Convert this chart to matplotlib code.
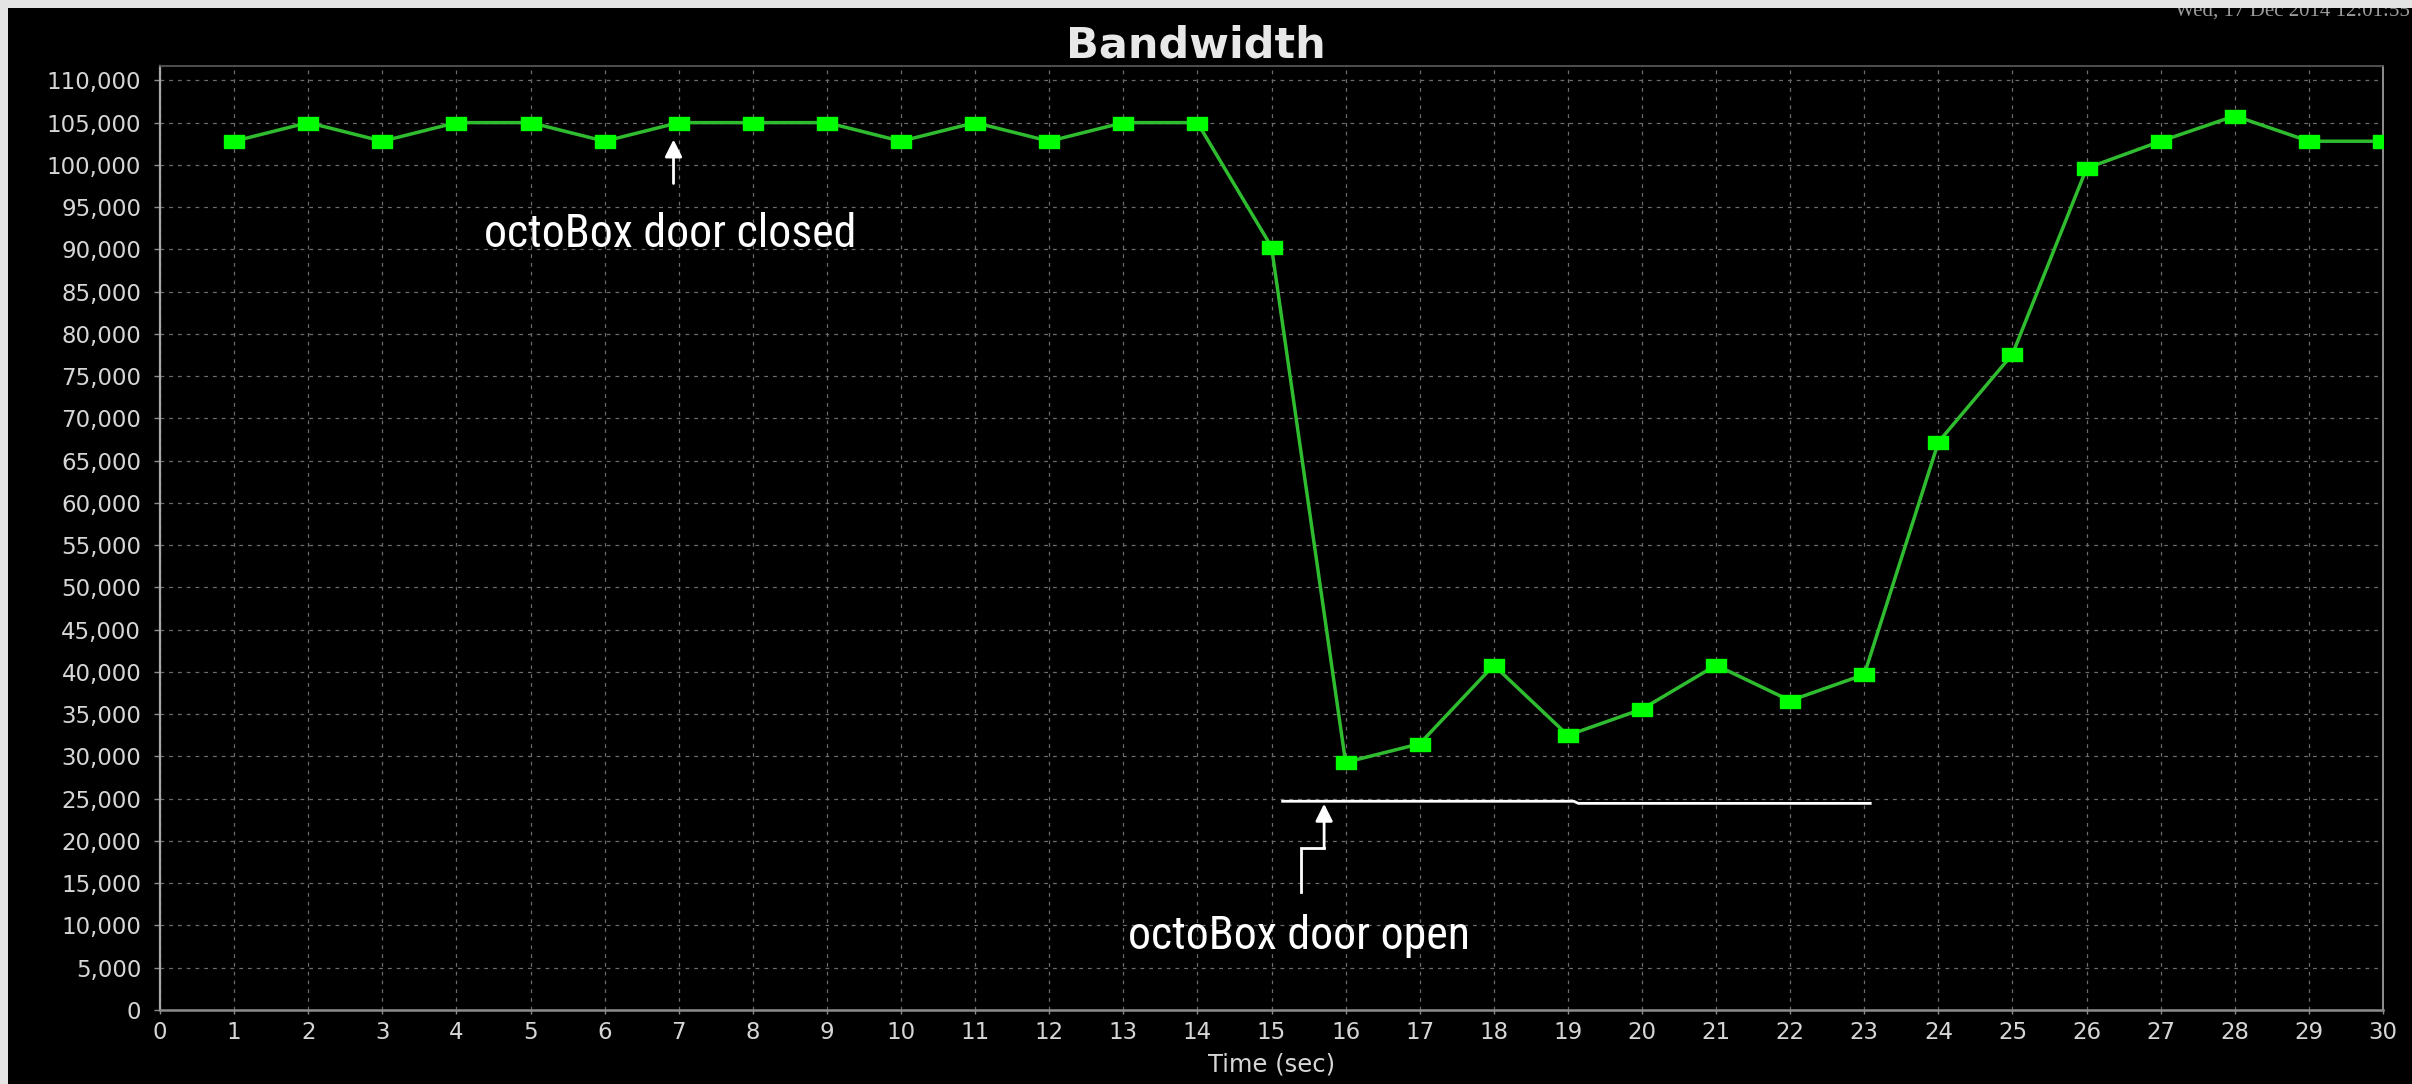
import matplotlib
matplotlib.use("Agg")
import matplotlib.pyplot as plt
from matplotlib.patches import Rectangle
from matplotlib.ticker import FuncFormatter
from matplotlib import font_manager

# ---- data -------------------------------------------------------------
seconds = list(range(1, 31))
bandwidth = [102800, 105000, 102800, 105000, 105000, 102800, 105000, 105000,
             105000, 102800, 105000, 102800, 105000, 105000, 90300, 29300,
             31500, 40800, 32500, 35600, 40800, 36600, 39700, 67200, 77600,
             99600, 102800, 105800, 102800, 102800]

x_ticks = list(range(0, 31))
y_ticks = list(range(0, 110001, 5000))

title_text = "Bandwidth"
x_label = "Time (sec)"
timestamp = "Wed, 17 Dec 2014 12:01:55"

# door-closed marker: arrow (tail -> tip) and label
closed_label = "octoBox door closed"
closed_arrow_x = [6.93, 6.93]
closed_arrow_y = [97800, 103000]
closed_label_xy = (6.88, 90300)

# door-open marker: span line, bent arrow and label
open_label = "octoBox door open"
open_span_x = [15.15, 19.08, 19.14, 23.08]
open_span_y = [24700, 24700, 24450, 24450]
open_arrow_x = [15.40, 15.40, 15.71, 15.71]
open_arrow_y = [13980, 19170, 19170, 24400]
open_label_xy = (15.37, 7200)

# ---- styling ----------------------------------------------------------
BG = "#000000"
GRID = "#6c6c6c"
TICK_TXT = "#d6d6d6"
LINE = "#2fbd2f"
MARK = "#00ff00"

# pick a narrow sans for the callout labels, falling back to Liberation Sans
installed = {f.name for f in font_manager.fontManager.ttflist}
narrow_family, narrow_size = "Liberation Sans", 30
for name, size in [("Liberation Sans Narrow", 34), ("DejaVu Sans Condensed", 30),
                   ("Roboto Condensed", 33), ("Open Sans Condensed", 33)]:
    if name in installed:
        narrow_family, narrow_size = name, size
        break

W, H = 2412, 1084
fig = plt.figure(figsize=(W / 100, H / 100), dpi=100, facecolor=BG)

left, right, bottom, top = 160 / W, 2383 / W, 1 - 1010 / H, 1 - 66 / H
ax = fig.add_axes([left, bottom, right - left, top - bottom])
ax.set_facecolor(BG)

ax.set_xlim(0, 30)
ax.set_ylim(0, 111700)
ax.set_xticks(x_ticks)
ax.set_yticks(y_ticks)
ax.yaxis.set_major_formatter(FuncFormatter(lambda v, _: f"{int(v):,}"))

ax.grid(True, color=GRID, lw=0.9, linestyle=(0, (3, 4)))
ax.set_axisbelow(True)

for side, col, lw in [("left", "#a8a8a8", 1.6), ("bottom", "#8c8c8c", 1.8),
                      ("top", "#555555", 1.3), ("right", "#9a9a9a", 1.3)]:
    ax.spines[side].set_color(col)
    ax.spines[side].set_linewidth(lw)

ax.tick_params(axis="y", colors="#8c8c8c", labelcolor=TICK_TXT, length=4.5,
               width=1.0, pad=9, labelsize=16.5)
ax.tick_params(axis="x", colors="#8c8c8c", labelcolor=TICK_TXT, length=3,
               width=1.0, pad=5, labelsize=16.5)
ax.set_xlabel(x_label, color=TICK_TXT, fontsize=17.5, labelpad=6)

# rectangular (slightly wide) square markers
rect = [(-1, -0.65), (1, -0.65), (1, 0.65), (-1, 0.65), (-1, -0.65)]
ax.plot(seconds, bandwidth, color=LINE, lw=2.5, marker=rect, ms=14.4,
        mfc=MARK, mec=MARK, zorder=3)

# door closed annotation
ax.annotate("", xy=(closed_arrow_x[1], closed_arrow_y[1]),
            xytext=(closed_arrow_x[0], closed_arrow_y[0]),
            arrowprops=dict(arrowstyle="-|>", color="white", lw=2.0,
                            mutation_scale=26, shrinkA=0, shrinkB=0),
            zorder=4)
ax.text(*closed_label_xy, closed_label, ha="center", va="baseline",
        fontsize=narrow_size, family=narrow_family, color="white", zorder=4)

# door open annotation
ax.plot(open_span_x, open_span_y, color="white", lw=2.0, zorder=4,
        solid_joinstyle="miter")
ax.plot(open_arrow_x[:3], open_arrow_y[:3], color="white", lw=2.0, zorder=4,
        solid_joinstyle="miter")
ax.annotate("", xy=(open_arrow_x[3], open_arrow_y[3]),
            xytext=(open_arrow_x[2], open_arrow_y[2]),
            arrowprops=dict(arrowstyle="-|>", color="white", lw=2.0,
                            mutation_scale=26, shrinkA=0, shrinkB=0),
            zorder=4)
ax.text(*open_label_xy, open_label, ha="center", va="baseline",
        fontsize=narrow_size, family=narrow_family, color="white", zorder=4)

# title and timestamp
fig.text(1196 / W, 1 - 58 / H, title_text, ha="center", va="baseline",
         fontsize=31, fontweight="bold", color="#e8e8e8")
fig.text(2410 / W, 1 - 16 / H, timestamp, ha="right", va="baseline",
         fontsize=15, family=["Liberation Serif", "DejaVu Serif"],
         color="#9c9c9c", zorder=5)

# light window border along the top and left edges
fig.patches.append(Rectangle((0, 1 - 8 / H), 1, 8 / H, transform=fig.transFigure,
                             facecolor="#e4e4e4", edgecolor="none", zorder=10))
fig.patches.append(Rectangle((0, 0), 8 / W, 1, transform=fig.transFigure,
                             facecolor="#e4e4e4", edgecolor="none", zorder=10))

fig.savefig("out.png", dpi=100, facecolor=BG)
